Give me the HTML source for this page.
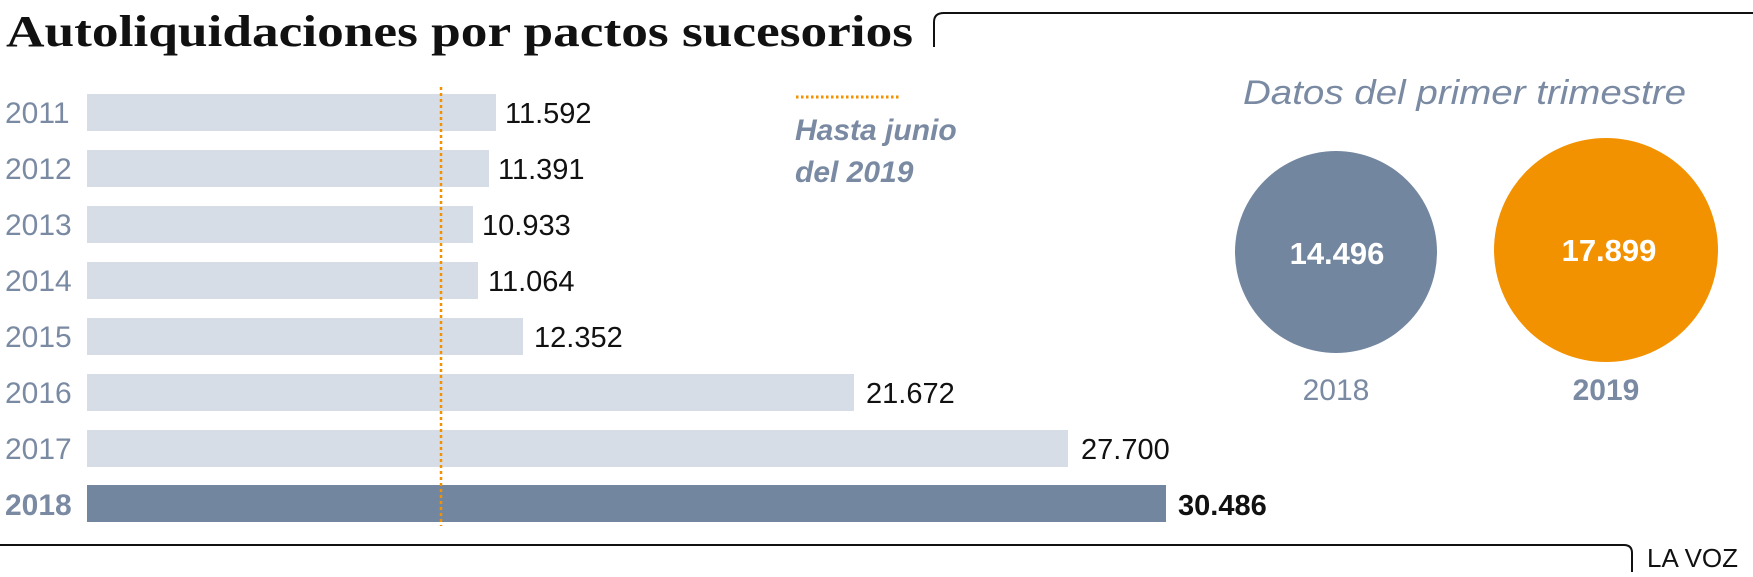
<!DOCTYPE html>
<html><head><meta charset="utf-8"><style>
body{margin:0;background:#fff;}
svg{display:block}
</style></head><body>
<svg width="1753" height="577" viewBox="0 0 1753 577" xmlns="http://www.w3.org/2000/svg">
<text x="6" y="46" font-family="Liberation Serif, serif" font-weight="bold" font-size="44" fill="#111" textLength="907" lengthAdjust="spacingAndGlyphs">Autoliquidaciones por pactos sucesorios</text>
<path d="M934 47 V22 Q934 13 944 13 H1753" fill="none" stroke="#111" stroke-width="2"/>
<g fill="#d7dde7">
<rect x="87" y="94" width="409" height="37"/>
<rect x="87" y="150" width="402" height="37"/>
<rect x="87" y="206" width="386" height="37"/>
<rect x="87" y="262" width="391" height="37"/>
<rect x="87" y="318" width="436" height="37"/>
<rect x="87" y="374" width="767" height="37"/>
<rect x="87" y="430" width="981" height="37"/>
</g>
<rect x="87" y="485" width="1079" height="37" fill="#73869f"/>
<line x1="441" y1="87" x2="441" y2="526" stroke="#f39200" stroke-width="2.5" stroke-dasharray="3,3"/>
<g font-family="Liberation Sans, sans-serif" font-size="30" fill="#7a8aa3">
<text x="5" y="123">2011</text><text x="5" y="179">2012</text><text x="5" y="235">2013</text>
<text x="5" y="291">2014</text><text x="5" y="347">2015</text><text x="5" y="403">2016</text>
<text x="5" y="459">2017</text><text x="5" y="515" font-weight="bold">2018</text>
</g>
<g font-family="Liberation Sans, sans-serif" font-size="29" fill="#111">
<text x="505" y="123">11.592</text><text x="498" y="179">11.391</text><text x="482" y="235">10.933</text>
<text x="488" y="291">11.064</text><text x="534" y="347">12.352</text><text x="866" y="403">21.672</text>
<text x="1081" y="459">27.700</text><text x="1178" y="515" font-weight="bold">30.486</text>
</g>
<line x1="796" y1="97" x2="900" y2="97" stroke="#f39200" stroke-width="3" stroke-dasharray="2.5,2.5"/>
<g font-family="Liberation Sans, sans-serif" font-size="30" font-weight="bold" font-style="italic" fill="#7a8aa3">
<text x="795" y="140">Hasta junio</text><text x="795" y="182">del 2019</text>
</g>
<text x="1243" y="104" font-family="Liberation Sans, sans-serif" font-style="italic" font-size="34" fill="#7a8aa3" textLength="443" lengthAdjust="spacingAndGlyphs">Datos del primer trimestre</text>
<circle cx="1336" cy="252" r="101" fill="#73869f"/>
<circle cx="1606" cy="250" r="112" fill="#f39200"/>
<g font-family="Liberation Sans, sans-serif" font-size="31" font-weight="bold" fill="#fff" text-anchor="middle">
<text x="1337" y="264">14.496</text><text x="1609" y="261">17.899</text>
</g>
<g font-family="Liberation Sans, sans-serif" font-size="30" fill="#7a8aa3" text-anchor="middle">
<text x="1336" y="400">2018</text><text x="1606" y="400" font-weight="bold">2019</text>
</g>
<path d="M0 545 H1624 Q1632 545 1632 553 V572" fill="none" stroke="#111" stroke-width="2"/>
<text x="1647" y="567" font-family="Liberation Sans, sans-serif" font-size="26" fill="#111">LA VOZ</text>
</svg>
</body></html>
